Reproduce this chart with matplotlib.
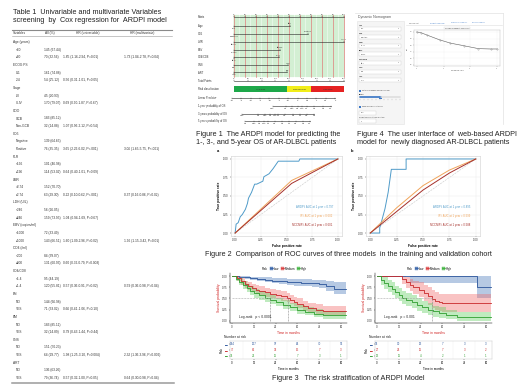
import numpy as np
import matplotlib
matplotlib.use("Agg")
import matplotlib.pyplot as plt
from matplotlib.patches import Rectangle, Patch
from matplotlib.lines import Line2D

plt.rcParams['font.family'] = ['Liberation Sans', 'DejaVu Sans']

W, H = 520, 390

# ---------------- Table 1 data ----------------
tbl_vars = ["Age (years)", "<60", "\u226560", "ECOG PS", "0-1", "2-4", "Stage", "I-II", "III-IV",
            "COO", "GCB", "Non-GCB", "CD5", "Negative", "Positive", "PLR", "<196", "\u2265196",
            "LMR", ">2.74", "\u22642.74", "LDH (U/L)", "<246", "\u2265246", "EBV (copies/ml)", "<1000", "\u22651000",
            "CD4 (/ml)", "<200", "\u2265200", "CD4/CD8", "<1.4", "\u22651.4", "EN", "NO", "YES",
            "BM", "NO", "YES", "CNS", "NO", "YES", "ART", "NO", "YES"]
tbl_all = ["", "145 (67.44)", "70 (32.56)", "", "161 (74.88)", "54 (25.12)", "", "45 (20.93)", "170 (79.07)",
           "", "183 (85.12)", "32 (14.88)", "", "139 (64.65)", "76 (35.35)", "", "101 (46.98)", "114 (53.02)",
           "", "152 (70.70)", "63 (29.30)", "", "56 (26.05)", "159 (73.95)", "", "72 (33.49)", "143 (66.51)",
           "", "84 (39.07)", "131 (60.93)", "", "95 (44.19)", "120 (55.81)", "", "144 (66.98)", "71 (33.02)",
           "", "183 (85.11)", "32 (14.89)", "", "151 (70.23)", "64 (29.77)", "", "136 (63.26)", "79 (36.74)"]
tbl_uni = ["", "", "1.85 (1.16-2.94, P=0.01)", "", "", "0.56 (0.31-1.01, P=0.05)", "", "", "0.69 (0.90-1.87, P=0.67)",
           "", "", "1.07 (0.96-2.12, P=0.54)", "", "", "3.65 (2.26-6.02, P<.001)", "", "", "0.64 (0.40-1.01, P=0.09)",
           "", "", "0.22 (0.10-0.62, P<.001)", "", "", "1.04 (0.94-1.69, P=0.67)", "", "", "1.60 (1.09-2.96, P=0.02)",
           "", "", "0.60 (0.32-0.79, P=0.003)", "", "", "0.57 (0.36-0.91, P=0.02)", "", "", "0.66 (0.41-1.06, P=0.10)",
           "", "", "0.79 (0.43-1.44, P=0.44)", "", "", "1.98 (1.25-3.10, P=0.004)", "", "", "0.57 (0.32-1.00, P=0.05)"]
tbl_multi = ["", "", "1.73 (1.04-2.78, P=0.04)", "", "", "", "", "", "",
             "", "", "", "", "", "3.06 (1.65-5.75, P<.001)", "", "", "",
             "", "", "0.37 (0.16-0.86, P=0.02)", "", "", "", "", "", "1.96 (1.15-3.42, P=0.01)",
             "", "", "", "", "", "0.59 (0.36-0.98, P=0.04)", "", "", "",
             "", "", "", "", "", "2.32 (1.36-3.96, P=0.002)", "", "", "0.64 (0.30-0.98, P=0.04)"]

# ---------------- Figure 1 nomogram data ----------------
nomo_vars = ["Age", "CD5", "LMR", "EBV", "CD4/CD8", "CNS", "ART"]
nomo_score = [50.5, 67, 100, 42, 40.5, 49, 48.5]
nomo_left = ["<60", "Negative", "\u22642.74", "<1000", "\u22651.4", "NO", "YES"]
nomo_right = ["\u226560", "Positive", ">2.74", "\u22651000", "<1.4", "YES", "NO"]
points_ticks = [0, 10, 20, 30, 40, 50, 60, 70, 80, 90, 100]
total_ticks = [0, 50, 100, 150, 200, 250, 300, 350, 400]
risk_names = ["Low Risk", "Medium Risk", "High Risk"]
risk_cuts = [0, 48.5, 70, 100]
lp_ticks = [-3.5, -3, -2.5, -2, -1.5, -1, -0.5, 0, 0.5, 1, 1.5, 2]
surv1_lbl = ["0.95", "0.9", "0.85", "0.8", "0.75", "0.7", "0.6", "0.5", "0.4"]
surv1_pts = [35, 47, 53, 58, 62, 66, 73, 81, 88]
surv3_lbl = ["0.95", "0.9", "0.85", "0.8", "0.75", "0.7", "0.6", "0.5", "0.4", "0.3", "0.2"]
surv3_pts = [7, 22, 28, 33, 37, 40, 46, 54, 60, 66, 73]
surv5_lbl = ["0.9", "0.85", "0.8", "0.75", "0.7", "0.6", "0.5", "0.4", "0.3", "0.2", "0.1"]
surv5_pts = [10, 18, 23, 27, 31, 37, 44, 50, 56, 63, 69]

# ---------------- Figure 4 web app data ----------------
ui_fields = ["Age", "CD5", "LMR", "EBV", "CD4/CD8", "CNS", "ART"]
ui_values = ["<60", "Negative", ">2.74", "<1000", "\u22651.4", "NO", "YES"]
ui_tabs = ["Survival plot", "Predicted Survival", "Numerical Summary", "Model Summary"]
ui_time = [0, 3, 8, 17, 25, 35, 46, 55, 60]
ui_surv = [1.0, 0.99, 0.95, 0.88, 0.83, 0.79, 0.745, 0.74, 0.74]

# ---------------- Figure 2 ROC data ----------------
rocA_ardpi_fpr = [0, 0.01, 0.03, 0.05, 0.07, 0.10, 0.12, 0.13, 0.16, 0.19, 0.21, 0.27, 0.28, 0.33, 0.37, 0.40, 0.42, 0.62, 0.63, 1.0]
rocA_ardpi_tpr = [0, 0.12, 0.14, 0.22, 0.25, 0.32, 0.40, 0.47, 0.55, 0.66, 0.66, 0.70, 0.76, 0.80, 0.87, 0.93, 0.97, 0.97, 1.0, 1.0]
rocA_ipi_fpr = [0, 0.55, 1.0]
rocA_ipi_tpr = [0, 0.71, 1.0]
rocA_nccn_fpr = [0, 0.55, 1.0]
rocA_nccn_tpr = [0, 0.67, 1.0]
rocA_text = ["ARDPI: AUC at 1 year = 0.797", "IPI: AUC at 1 year = 0.602", "NCCNIPI: AUC at 1 year = 0.601"]

rocB_ardpi_fpr = [0, 0.09, 0.09, 0.11, 0.14, 0.17, 0.20, 0.34, 0.34, 1.0]
rocB_ardpi_tpr = [0, 0.0, 0.07, 0.17, 0.33, 0.55, 0.86, 0.86, 1.0, 1.0]
rocB_ipi_fpr = [0, 0.25, 0.5, 0.75, 1.0]
rocB_ipi_tpr = [0, 0.34, 0.64, 0.85, 1.0]
rocB_nccn_fpr = [0, 0.25, 0.5, 0.75, 1.0]
rocB_nccn_tpr = [0, 0.29, 0.58, 0.81, 1.0]
rocB_text = ["ARDPI: AUC at 1 year = 0.895", "IPI: AUC at 1 year = 0.599", "NCCNIPI: AUC at 1 year = 0.588"]

# ---------------- Figure 3 KM data ----------------
risk_labels = ["Low", "Medium", "High"]
kmA_low_t = [0, 4, 7, 10, 14, 18, 22, 26, 30, 34, 38, 44, 48, 52, 56, 63]
kmA_low_s = [1.0, 0.99, 0.97, 0.95, 0.93, 0.92, 0.90, 0.88, 0.87, 0.86, 0.85, 0.84, 0.82, 0.78, 0.72, 0.72]
kmA_low_lo = [1.0, 0.97, 0.94, 0.91, 0.89, 0.87, 0.85, 0.82, 0.81, 0.79, 0.78, 0.76, 0.73, 0.67, 0.60, 0.60]
kmA_low_hi = [1.0, 1.0, 1.0, 0.99, 0.98, 0.97, 0.96, 0.95, 0.94, 0.93, 0.93, 0.92, 0.91, 0.89, 0.86, 0.86]
kmA_med_t = [0, 3, 5, 7, 9, 11, 13, 15, 18, 21, 24, 27, 30, 32, 34, 36, 39, 42, 46, 50, 63]
kmA_med_s = [1.0, 0.95, 0.88, 0.82, 0.77, 0.74, 0.70, 0.67, 0.64, 0.61, 0.58, 0.55, 0.51, 0.47, 0.42, 0.38, 0.33, 0.28, 0.25, 0.22, 0.22]
kmA_med_lo = [1.0, 0.90, 0.81, 0.74, 0.68, 0.65, 0.61, 0.57, 0.54, 0.51, 0.48, 0.45, 0.41, 0.37, 0.32, 0.28, 0.23, 0.19, 0.16, 0.13, 0.13]
kmA_med_hi = [1.0, 1.0, 0.95, 0.90, 0.86, 0.83, 0.80, 0.77, 0.74, 0.71, 0.68, 0.66, 0.62, 0.58, 0.54, 0.50, 0.45, 0.40, 0.37, 0.34, 0.34]
kmA_high_t = [0, 2, 4, 6, 8, 10, 12, 15, 18, 21, 24, 28, 32, 36, 40, 45, 50, 63]
kmA_high_s = [1.0, 0.94, 0.87, 0.80, 0.73, 0.67, 0.62, 0.57, 0.52, 0.47, 0.42, 0.36, 0.30, 0.25, 0.20, 0.16, 0.13, 0.13]
kmA_high_lo = [1.0, 0.88, 0.80, 0.72, 0.64, 0.58, 0.52, 0.47, 0.42, 0.37, 0.32, 0.26, 0.21, 0.16, 0.12, 0.08, 0.05, 0.05]
kmA_high_hi = [1.0, 1.0, 0.95, 0.89, 0.83, 0.77, 0.72, 0.67, 0.62, 0.57, 0.52, 0.46, 0.40, 0.35, 0.30, 0.26, 0.23, 0.23]
kmA_median = [21, 31]
kmA_atrisk = [[144, 127, 97, 84, 70, 51], [77, 62, 33, 15, 7, 3], [31, 21, 11, 7, 3, 1]]
kmA_p = "Log-rank   p < 0.0001"

kmB_low_t = [0, 18, 55, 63]
kmB_low_s = [1.0, 1.0, 0.75, 0.75]
kmB_low_lo = [1.0, 0.84, 0.50, 0.50]
kmB_low_hi = [1.0, 1.0, 1.0, 1.0]
kmB_med_t = [0, 12, 14, 16, 18, 20, 23, 26, 28, 30, 32, 34, 36, 63]
kmB_med_s = [1.0, 1.0, 0.93, 0.87, 0.80, 0.75, 0.70, 0.62, 0.55, 0.48, 0.44, 0.41, 0.40, 0.40]
kmB_med_lo = [1.0, 1.0, 0.83, 0.74, 0.66, 0.59, 0.53, 0.44, 0.36, 0.29, 0.25, 0.21, 0.20, 0.20]
kmB_med_hi = [1.0, 1.0, 1.0, 0.98, 0.94, 0.90, 0.87, 0.81, 0.75, 0.68, 0.64, 0.61, 0.60, 0.60]
kmB_high_t = [0, 2, 4, 6, 8, 10, 12, 14, 16, 19, 22, 25, 28, 31, 34, 38, 44, 63]
kmB_high_s = [1.0, 0.92, 0.85, 0.78, 0.71, 0.64, 0.58, 0.52, 0.47, 0.42, 0.36, 0.30, 0.25, 0.21, 0.17, 0.13, 0.08, 0.08]
kmB_high_lo = [1.0, 0.80, 0.72, 0.64, 0.57, 0.50, 0.44, 0.38, 0.33, 0.28, 0.22, 0.17, 0.12, 0.09, 0.06, 0.03, 0.0, 0.0]
kmB_high_hi = [1.0, 1.0, 0.98, 0.92, 0.86, 0.79, 0.73, 0.67, 0.62, 0.57, 0.51, 0.45, 0.39, 0.34, 0.30, 0.25, 0.20, 0.20]
kmB_median = [30]
kmB_atrisk = [[35, 30, 13, 7, 3, 3], [27, 24, 11, 7, 3, 2], [13, 11, 4, 2, 1, 1]]
kmB_p = "Log-rank   p = 0.001"
atrisk_times = [0, 12, 24, 36, 48, 60]

km_line = ['#2b559b', '#c8282a', '#2f9e2f']
km_band = ['#4a78bb', '#f06a6a', '#5fcf5f']
roc_cols = ['#4f9bc9', '#f0a45a', '#a5302b']
CAP = 5.2  # caption font size

fig = plt.figure(figsize=(W / 100, H / 100), dpi=100)


def px_axes(x, y, w, h):
    return fig.add_axes([x / W, 1 - (y + h) / H, w / W, h / H])


canvas = px_axes(0, 0, W, H)
canvas.set_xlim(0, W)
canvas.set_ylim(H, 0)
canvas.axis('off')

# ---------------- Table 1 ----------------
canvas.text(13, 13, "Table 1  Univariable and multivariate Variables", fontsize=CAP, va='center', color='#222')
canvas.text(13, 21, "screening  by  Cox regression for  ARDPI model", fontsize=CAP, va='center', color='#222')
canvas.plot([12, 172], [29.5, 29.5], color='#8a8a8a', lw=0.8)
for x, lab in zip([13, 45, 76, 130], ["Variables", "All (%)", "HR (univariable)", "HR (multivariate)"]):
    canvas.text(x, 33.2, lab, fontsize=2.3, va='center', color='#333')
canvas.plot([12, 172], [36.3, 36.3], color='#9a9a9a', lw=0.4)
for i, (v, a, u, m) in enumerate(zip(tbl_vars, tbl_all, tbl_uni, tbl_multi)):
    y = 42.2 + i * 7.63
    canvas.text(13 if a == "" else 16, y, v, fontsize=2.3, va='center', color='#333')
    canvas.text(44, y, a, fontsize=2.3, va='center', color='#333')
    canvas.text(63, y, u, fontsize=2.3, va='center', color='#333')
    canvas.text(124, y, m, fontsize=2.3, va='center', color='#333')
canvas.plot([12, 174], [383, 383], color='#9a9a9a', lw=1.1)

# ---------------- Figure 1 nomogram ----------------
nomo = px_axes(188, 10, 162, 118)
nomo.set_xlim((188 - 234) / 1.1, (350 - 234) / 1.1)
nomo.set_ylim(128, 10)
nomo.axis('off')
row_y = [17, 26, 34, 42, 50, 57.5, 65, 72.5, 81, 89, 98, 106, 113.5, 121]
row_names = (["Points"] + nomo_vars +
             ["Total Points", "Risk classification", "Linear Predictor", "1-year probability of OS",
              "3-years probability of OS", "5-years probability of OS"])
for y, name in zip(row_y, row_names):
    nomo.text(-33, y, name, fontsize=1.9, va='center', color='#333')

nomo.add_patch(Rectangle((0, 15), 100, 62, fc='#e6f6e6', ec='none', zorder=0))
for v in np.arange(0, 100.1, 2):
    nomo.plot([v, v], [15, 77], color='#8fd88f', lw=0.3, zorder=1)
for v in points_ticks:
    nomo.plot([v, v], [15, 77], color='#e07070', lw=0.45, zorder=1)


def nomo_scale(y, pos, labels, above):
    nomo.plot([min(pos), max(pos)], [y, y], color='#222', lw=0.4, zorder=3)
    d = -1 if above else 1
    for p, lab in zip(pos, labels):
        nomo.plot([p, p], [y, y + 1.1 * d], color='#222', lw=0.3, zorder=3)
        nomo.text(p, y + 1.6 * d, lab, fontsize=1.6, ha='center', va='bottom' if above else 'top', color='#333')


nomo_scale(row_y[0], points_ticks, [str(t) for t in points_ticks], True)
for i in range(len(nomo_vars)):
    y = row_y[i + 1]
    nomo.plot([0, nomo_score[i]], [y, y], color='#222', lw=0.4, zorder=3)
    nomo.plot([0, 0], [y, y + 1.1], color='#222', lw=0.3, zorder=3)
    nomo.plot([nomo_score[i]] * 2, [y, y - 1.1], color='#222', lw=0.3, zorder=3)
    nomo.text(0, y + 1.5, nomo_left[i], fontsize=1.6, ha='center', va='top', color='#333')
    nomo.text(nomo_score[i], y - 1.5, nomo_right[i], fontsize=1.6, ha='center', va='bottom', color='#333')
nomo_scale(row_y[8], [t * 100 / 400 for t in total_ticks], [str(t) for t in total_ticks], True)
for k, col in enumerate(['#1ea84a', '#f2ee1a', '#e52222']):
    nomo.add_patch(Rectangle((risk_cuts[k], row_y[9] - 2.6), risk_cuts[k + 1] - risk_cuts[k], 5.2,
                             fc=col, ec='none'))
    nomo.text((risk_cuts[k] + risk_cuts[k + 1]) / 2, row_y[9], risk_names[k], fontsize=1.6,
              ha='center', va='center', color='#333')
nomo_scale(row_y[10], [-2 + (t + 3.5) * 94 / 5.5 for t in lp_ticks], [str(t) for t in lp_ticks], False)
nomo_scale(row_y[11], surv1_pts, surv1_lbl, False)
nomo_scale(row_y[12], surv3_pts, surv3_lbl, False)
nomo_scale(row_y[13], surv5_pts, surv5_lbl, False)

canvas.text(196, 135, "Figure 1  The ARDPI model for predicting the", fontsize=CAP, va='center', color='#222')
canvas.text(196, 143, "1-, 3-, and 5-year OS of AR-DLBCL patients", fontsize=CAP, va='center', color='#222')

# ---------------- Figure 4 web interface ----------------
ui = px_axes(355, 10, 165, 118)
ui.set_xlim(355, 520)
ui.set_ylim(128, 10)
ui.axis('off')
ui.plot([355, 503], [13, 13], color='#e2e2e2', lw=0.5)
ui.plot([503, 503], [13, 124], color='#e2e2e2', lw=0.5)
ui.text(358, 17.3, "Dynamic Nomogram", fontsize=2.6, va='center', color='#555')
ui.add_patch(Rectangle((357, 21), 47, 103, fc='#f5f5f5', ec='#e3e3e3', lw=0.4))
for i, (f, v) in enumerate(zip(ui_fields, ui_values)):
    y = 25 + i * 8.6
    ui.text(359, y, f, fontsize=1.5, weight='bold', va='center', color='#333')
    ui.add_patch(Rectangle((359, y + 1.6), 42, 4, fc='white', ec='#cfcfcf', lw=0.3))
    ui.text(360.5, y + 3.6, v, fontsize=1.4, va='center', color='#555')
    ui.text(399, y + 3.6, "\u25be", fontsize=1.4, va='center', ha='center', color='#888')
ui.add_patch(Rectangle((359, 89.5), 2, 2, fc='#3a78c8', ec='none'))
ui.text(362.5, 90.5, "Set x-axis ranges (Follow Up Time)", fontsize=1.3, va='center', color='#333')
ui.text(359, 94.5, "Range", fontsize=1.3, va='center', color='#333', weight='bold')
ui.plot([360, 400], [97.5, 97.5], color='#dddddd', lw=1.2, solid_capstyle='round')
ui.plot([360, 380], [97.5, 97.5], color='#3a78c8', lw=1.2, solid_capstyle='round')
ui.add_patch(Rectangle((378.5, 95.5), 3, 3.6, fc='#3a78c8', ec='none'))
for xt in np.linspace(360, 400, 11):
    ui.plot([xt, xt], [99.5, 100.5], color='#999', lw=0.25)
ui.add_patch(Rectangle((359, 105.5), 2, 2, fc='#3a78c8', ec='none'))
ui.text(362.5, 106.5, "Show confidence intervals", fontsize=1.3, va='center', color='#333')
ui.add_patch(Rectangle((359, 110.5), 17, 4, fc='white', ec='#cfcfcf', lw=0.3))
ui.text(360.5, 112.5, "0.95", fontsize=1.3, va='center', color='#555')
ui.text(359, 117, "Predict survival at time (months)", fontsize=1.3, va='center', color='#333')
ui.add_patch(Rectangle((359, 119), 17, 4, fc='white', ec='#cfcfcf', lw=0.3))
ui.text(360.5, 121, "12", fontsize=1.3, va='center', color='#555')
for k, tab in enumerate(ui_tabs):
    ui.text(409 + k * 21, 23, tab, fontsize=1.3, va='center', color='#3a78c8' if k else '#555')
ui.plot([406, 502], [25, 25], color='#dddddd', lw=0.4)

inset = px_axes(414, 30, 86, 36)
inset.plot(ui_time, ui_surv, color='#666666', lw=0.4)
inset.plot(ui_time, ui_surv, color='#999999', lw=0.3, ls=':', marker='.', ms=0.6)
inset.set_xlim(-2, 62)
inset.set_ylim(0.48, 1.03)
inset.set_xticks([0, 20, 40, 60])
inset.set_yticks([0.5, 0.6, 0.7, 0.8, 0.9, 1.0])
inset.tick_params(labelsize=1.3, length=0.8, width=0.25, colors='#777', pad=0.5)
for s in inset.spines.values():
    s.set_color('#bbbbbb')
    s.set_linewidth(0.3)
inset.grid(color='#eeeeee', lw=0.25)
inset.set_title("Survival Probability over Time", fontsize=1.4, color='#444', pad=1,
                bbox=dict(fc='white', ec='#cccccc', lw=0.2, pad=0.6))
inset.set_xlabel("Follow Up Time", fontsize=1.4, color='#444', labelpad=1)
inset.set_ylabel("S(t)", fontsize=1.4, color='#444', labelpad=1)

canvas.text(357, 134, "Figure 4  The user interface of  web-based ARDPI", fontsize=CAP, va='center', color='#222')
canvas.text(357, 142, "model for  newly diagnosed AR-DLBCL patients", fontsize=CAP, va='center', color='#222')

# ---------------- Figure 2 ROC ----------------


def roc_panel(ax, curves, texts, tag):
    ax.plot([0, 1], [0, 1], color='#c8c8c8', lw=0.4, ls='--', zorder=1)
    for (fpr, tpr), col in zip(curves, roc_cols):
        ax.plot(fpr, tpr, color=col, lw=0.7, zorder=3)
    ax.set_xlim(-0.04, 1.04)
    ax.set_ylim(-0.04, 1.04)
    ticks = [0, 0.25, 0.5, 0.75, 1.0]
    ax.set_xticks(ticks)
    ax.set_yticks(ticks)
    ax.set_xticklabels(["0.00", "0.25", "0.50", "0.75", "1.00"])
    ax.set_yticklabels(["0.00", "0.25", "0.50", "0.75", "1.00"])
    ax.tick_params(labelsize=2.0, length=0.8, width=0.3, pad=0.8, colors='#333')
    ax.grid(color='#ececec', lw=0.35)
    for s in ax.spines.values():
        s.set_color('#cfcfcf')
        s.set_linewidth(0.4)
    ax.set_xlabel("False positive rate", fontsize=2.4, labelpad=1, weight='bold')
    ax.set_ylabel("True positive rate", fontsize=2.4, labelpad=1.5, weight='bold')
    for k, (t, col) in enumerate(zip(texts, roc_cols)):
        ax.text(0.95, 0.35 - k * 0.12, t, fontsize=2.0, ha='right', va='center', color=col)
    ax.text(-0.13, 1.05, tag, transform=ax.transAxes, fontsize=3.0, weight='bold')


rocA = px_axes(231, 156, 111, 80)
roc_panel(rocA, [(rocA_ardpi_fpr, rocA_ardpi_tpr), (rocA_ipi_fpr, rocA_ipi_tpr), (rocA_nccn_fpr, rocA_nccn_tpr)],
          rocA_text, "a")
rocB = px_axes(366, 156, 114, 80)
roc_panel(rocB, [(rocB_ardpi_fpr, rocB_ardpi_tpr), (rocB_ipi_fpr, rocB_ipi_tpr), (rocB_nccn_fpr, rocB_nccn_tpr)],
          rocB_text, "b")

canvas.text(205, 254, "Figure 2  Comparison of ROC curves of three models  in the training and validation cohort",
            fontsize=CAP, va='center', color='#222')

# ---------------- Figure 3 KM ----------------


def km_panel(ax, groups, medians, ptext):
    for (t, s, lo, hi), lc, bc in zip(groups, km_line, km_band):
        ax.fill_between(t, lo, hi, step='post', color=bc, alpha=0.4, lw=0)
        ax.step(t, s, where='post', color=lc, lw=0.6)
    ax.plot([0, max(medians)], [0.5, 0.5], color='#aaaaaa', lw=0.4, ls='--')
    for m in medians:
        ax.plot([m, m], [0, 0.5], color='#888888', lw=0.4, ls='--')
    ax.set_xlim(-1.1, 63.3)
    ax.set_ylim(-0.05, 1.07)
    ax.set_xticks(atrisk_times)
    ax.set_yticks([0, 0.25, 0.5, 0.75, 1.0])
    ax.set_yticklabels(["0.00", "0.25", "0.50", "0.75", "1.00"])
    ax.tick_params(labelsize=2.0, length=0.8, width=0.3, pad=0.8, colors='#333')
    for side in ['top', 'right']:
        ax.spines[side].set_visible(False)
    for side in ['left', 'bottom']:
        ax.spines[side].set_linewidth(0.35)
    ax.set_xlabel("Time in months", fontsize=2.4, color='#d02020', labelpad=1)
    ax.set_ylabel("Survival probability", fontsize=2.4, color='#d02020', labelpad=1)
    ax.text(4, 0.08, ptext, fontsize=2.4, va='center', color='#222')
    handles = [Line2D([], [], alpha=0)] + [
        (Patch(fc=bc, ec=lc, lw=0.3, alpha=0.8), Line2D([], [], color=lc, lw=0.5))
        for lc, bc in zip(km_line, km_band)]
    ax.legend(handles, ["Risk"] + risk_labels, loc='lower center', bbox_to_anchor=(0.45, 1.02), ncol=4,
              fontsize=2.1, frameon=False, handlelength=1.0, handleheight=0.8, handletextpad=0.3,
              columnspacing=0.6, borderpad=0)


def risk_table(ax, counts):
    for r, (vals, col) in enumerate(zip(counts, km_line)):
        for t, v in zip(atrisk_times, vals):
            ax.text(t, r + 1, str(v), fontsize=2.1, ha='center', va='center', color=col)
    for g in [6, 18, 30, 42, 54]:
        ax.axvline(g, color='#eeeeee', lw=0.3)
    ax.set_xlim(-1.1, 63.3)
    ax.set_ylim(3.6, 0.4)
    ax.set_xticks(atrisk_times)
    ax.set_yticks([1, 2, 3])
    ax.set_yticklabels(["\u25ac"] * 3, fontsize=2.2)
    for lab, col in zip(ax.get_yticklabels(), km_line):
        lab.set_color(col)
    ax.tick_params(labelsize=2.0, length=0.8, width=0.3, pad=0.8)
    for s in ax.spines.values():
        s.set_color('#cccccc')
        s.set_linewidth(0.35)
    ax.set_xlabel("Time in months", fontsize=2.2, labelpad=1)
    ax.set_ylabel("Risk", fontsize=2.2, labelpad=1)


kmA = px_axes(230, 273, 117, 50)
km_panel(kmA, [(kmA_low_t, kmA_low_s, kmA_low_lo, kmA_low_hi), (kmA_med_t, kmA_med_s, kmA_med_lo, kmA_med_hi),
               (kmA_high_t, kmA_high_s, kmA_high_lo, kmA_high_hi)], kmA_median, kmA_p)
kmB = px_axes(375, 273, 117, 50)
km_panel(kmB, [(kmB_low_t, kmB_low_s, kmB_low_lo, kmB_low_hi), (kmB_med_t, kmB_med_s, kmB_med_lo, kmB_med_hi),
               (kmB_high_t, kmB_high_s, kmB_high_lo, kmB_high_hi)], kmB_median, kmB_p)

tabA = px_axes(230, 341, 117, 18)
risk_table(tabA, kmA_atrisk)
tabB = px_axes(375, 341, 117, 18)
risk_table(tabB, kmB_atrisk)
canvas.text(224, 337.5, "Number at risk", fontsize=2.4, va='center', color='#222')
canvas.text(369, 337.5, "Number at risk", fontsize=2.4, va='center', color='#222')

canvas.text(272, 378, "Figure 3   The risk stratification of ARDPI Model", fontsize=CAP, va='center', color='#222')

fig.savefig("out.png", dpi=100)
